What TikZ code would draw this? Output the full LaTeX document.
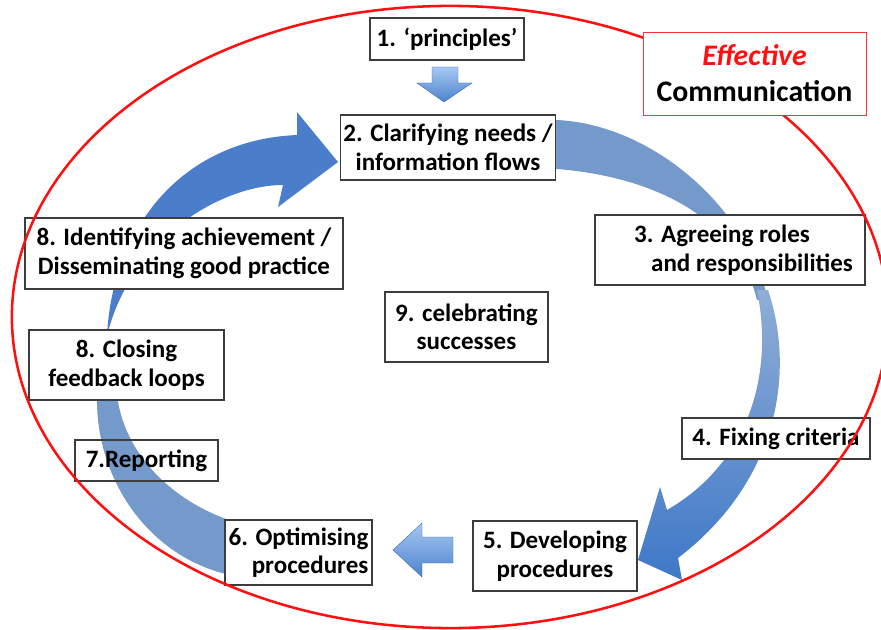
\documentclass[tikz,border=0pt]{standalone}
\usepackage{fontspec}
\setmainfont{Carlito}
\definecolor{ringred}{HTML}{FF1010}
\definecolor{bandblue}{HTML}{7499CB}
\definecolor{sweepblue}{HTML}{4A7ECB}
\definecolor{deepblue}{HTML}{3E78C8}
\definecolor{paleblue}{HTML}{A6C8F4}
\definecolor{midblue}{HTML}{4C82CC}
\definecolor{boxline}{HTML}{3C3C3C}
\tikzset{
  stage/.style ={draw=boxline, line width=0.9pt, fill=white, align=center,
                 inner sep=2pt, font=\fontsize{17.8}{20.3}\selectfont\bfseries},
  band/.style  ={fill=bandblue},
  sweep/.style ={fill=sweepblue},
  % small block arrows with a light-to-dark fade
  nudge/.style ={top color=paleblue, bottom color=midblue,
                 draw=midblue!85!black, line width=0.3pt},
}

\begin{document}
\begin{tikzpicture}[x=0.025cm, y=-0.025cm]
    \clip (0,0) rectangle (881,630);
    % blue sweeps, behind the stages
    \fill[band] (540,120) .. controls (640,115) and (745,200) .. (768,300)
      -- (757,300) .. controls (735,210) and (640,172) .. (540,168) -- cycle;
    \shade[top color=bandblue!80!white, bottom color=deepblue]
      (757,290) -- (768,290) .. controls (795,370) and (780,480) .. (678,558)
      -- (682,580) -- (638,560) -- (660,487) -- (667,510)
      .. controls (745,465) and (775,380) .. (757,290) -- cycle;
    \fill[band] (97,395) .. controls (95,480) and (150,560) .. (235,576)
      -- (235,522) .. controls (180,505) and (125,460) .. (117,395) -- cycle;
    \fill[sweep] (107,336) .. controls (112,230) and (180,140) .. (297,135)
      -- (297,112) -- (338,162) -- (278,207) -- (283,185)
      .. controls (220,185) and (130,240) .. (107,336) -- cycle;
    % small arrows
    \shade[nudge] (432,67) -- (458,67) -- (458,83) -- (472,83) -- (444,102)
      -- (417,83) -- (432,83) -- cycle;
    \shade[nudge] (453,537) -- (453,563) -- (422,563) -- (422,577) -- (393,550)
      -- (422,523) -- (422,537) -- cycle;
    % stages
    \node[stage, minimum width=3.85cm, minimum height=1.05cm]  (principles) at (447,39)    {1. ‘principles’};
    \node[stage, minimum width=5.25cm, minimum height=1.625cm] (clarify)    at (448,147.5) {2. Clarifying needs /\\information flows};
    \node[stage, minimum width=6.75cm, minimum height=1.75cm, align=left] (roles) at (730,250)
      {\hspace*{0.675cm}3. Agreeing roles\\\hspace*{1.1cm}and responsibilities};
    \node[stage, minimum width=4.7cm, minimum height=1.025cm]  (criteria)   at (776,438.5) {4. Fixing criteria};
    \node[stage, minimum width=4.1cm, minimum height=1.75cm]   (develop)    at (555,556)   {5. Developing\\procedures};
    \node[stage, minimum width=3.675cm, minimum height=1.625cm, align=right] (optimise) at (298.5,552.5) {6. Optimising\\procedures};
    \node[stage, fill=none, minimum width=3.575cm, minimum height=1.025cm] (report) at (146.5,460.5) {7.Reporting};
    \node[stage, minimum width=4.875cm, minimum height=1.75cm] (loops)      at (126.5,365) {8. Closing\\feedback loops};
    \node[stage, minimum width=7.95cm, minimum height=1.775cm] (achieve)    at (184,253.5) {8. Identifying achievement /\\Disseminating good practice};
    \node[stage, minimum width=4.075cm, minimum height=1.75cm] (celebrate)  at (466.5,327) {9. celebrating\\successes};
    % outer ring
    \draw[ringred, line width=1.8pt] (450,317) ellipse [x radius=10.95cm, y radius=7.775cm];
    % title
    \node[draw=ringred!85, line width=0.6pt, fill=white, align=center,
          minimum width=5.575cm, minimum height=2.075cm,
          font=\fontsize{21.2}{25.6}\selectfont\bfseries] (title) at (754.5,73.5)
      {\textcolor{ringred}{\itshape Effective}\\Communication};
\end{tikzpicture}
\end{document}
